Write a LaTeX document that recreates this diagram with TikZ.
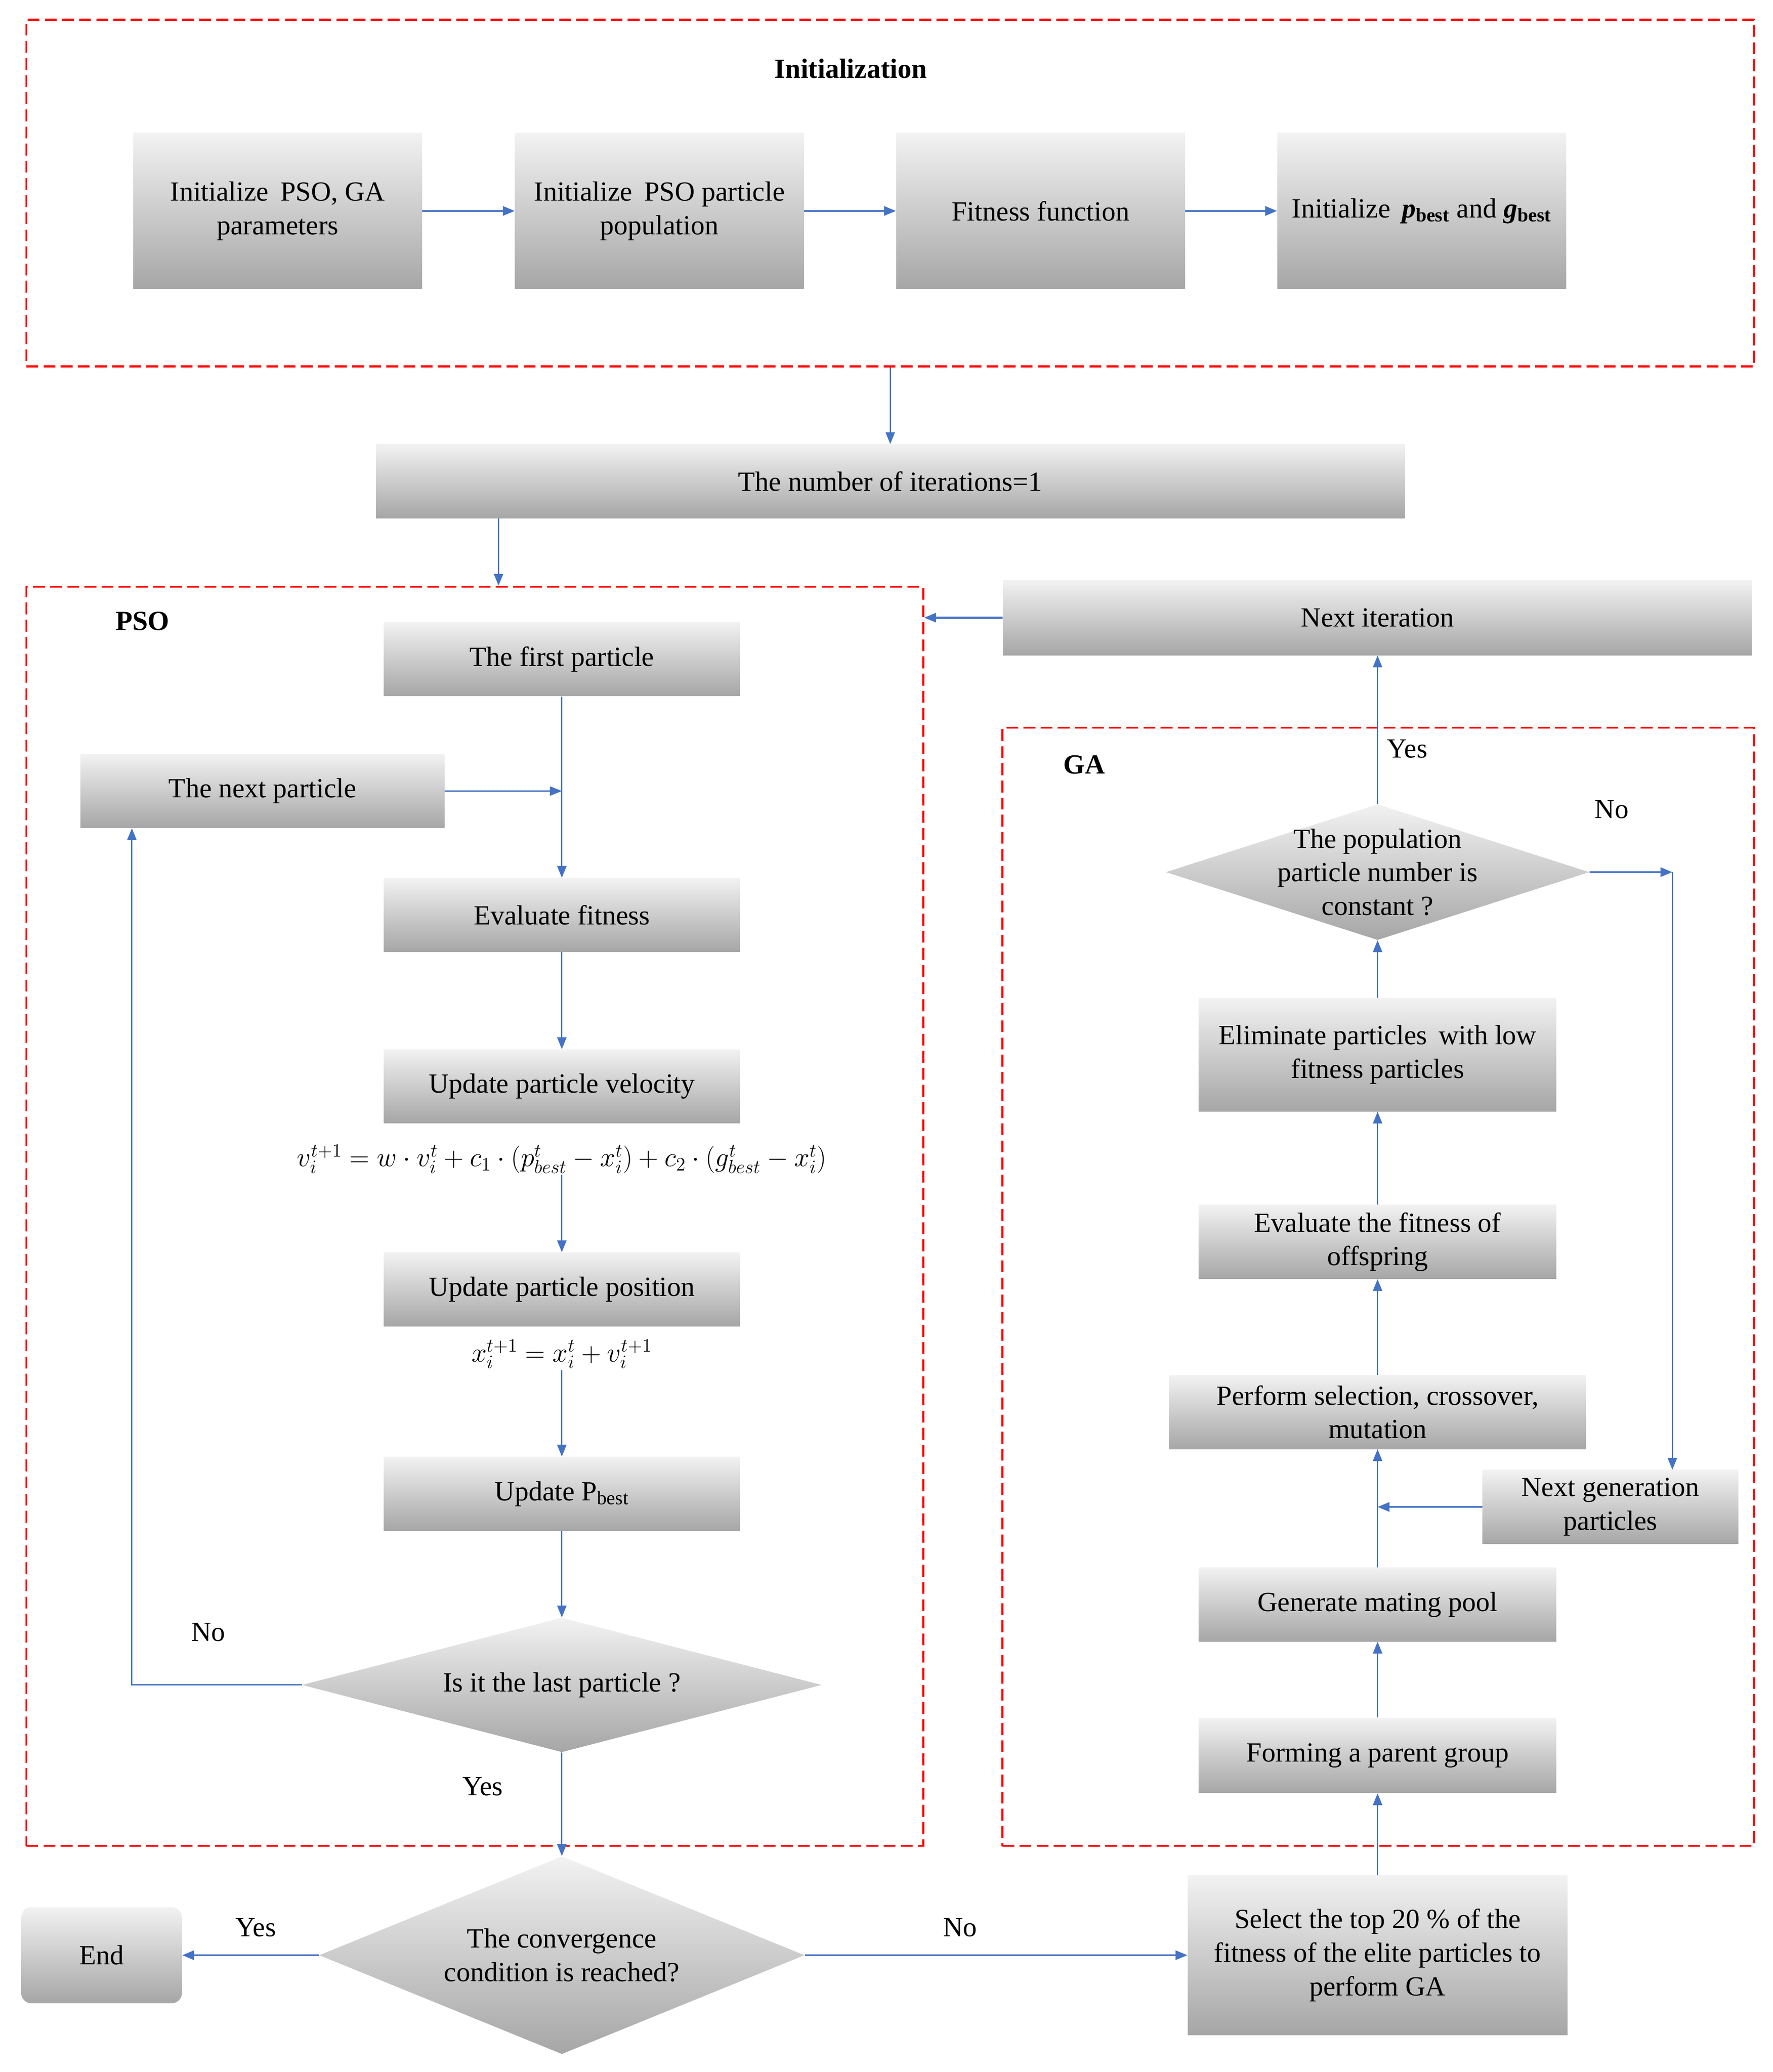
\documentclass[tikz,border=0pt]{standalone}
\usepackage{fontspec}
\setmainfont{Liberation Serif}
\usetikzlibrary{shapes.geometric,arrows.meta}
\definecolor{gtop}{HTML}{F2F2F2}
\definecolor{gbot}{HTML}{A6A6A6}
\definecolor{arrblue}{HTML}{4472C4}
\begin{document}
\begin{tikzpicture}[x=1pt,y=-1pt,
  every node/.style={font=\fontsize{21}{25.5}\selectfont},
  box/.style={top color=gtop, bottom color=gbot, draw=none, align=center, inner sep=0pt},
  dia/.style={diamond, top color=gtop, bottom color=gbot, draw=none, inner sep=0pt},
  frame/.style={draw=red, dash pattern=on 9pt off 4pt, line width=1.5pt, inner sep=0pt},
  arr/.style={draw=arrblue, line width=1pt, -{Triangle[length=9pt,width=7pt]}},
  harr/.style={arr, line width=1.5pt},
  lbl/.style={inner sep=0pt},
  ttl/.style={inner sep=0pt, font=\fontsize{21}{25.5}\selectfont\bfseries}]
\useasboundingbox (0,0) rectangle (1344,1571.6);
\fill[white] (0,0) rectangle (1344,1571.6);

% ---------- Initialization ----------
\node[frame, minimum width=1310pt, minimum height=263pt] (initf) at (675,146.5) {};
\node[ttl] (tinit) at (645,52) {Initialization};
\node[box, minimum width=219pt, minimum height=118pt] (b1) at (210.5,160) {Initialize\, PSO, GA\\parameters};
\node[box, minimum width=219pt, minimum height=118pt] (b2) at (500,160) {Initialize\, PSO particle\\population};
\node[box, minimum width=219pt, minimum height=118pt] (b3) at (789,160) {Fitness function};
\node[box, minimum width=219pt, minimum height=118pt] (b4) at (1078,160) {Initialize\, \textbf{\textit{p}}\textsubscript{\textbf{best}} and \textbf{\textit{g}}\textsubscript{\textbf{best}}};
\draw[harr] (b1.east) -- (b2.west);
\draw[harr] (b2.east) -- (b3.west);
\draw[harr] (b3.east) -- (b4.west);

\node[box, minimum width=780pt, minimum height=56pt] (iter) at (675,365) {The number of iterations=1};
\draw[arr] (initf.south) -- (iter.north);

% ---------- PSO ----------
\node[frame, minimum width=680pt, minimum height=955pt] (pso) at (360,922.5) {};
\node[ttl] (tpso) at (108,471) {PSO};
\coordinate (cx) at (378,0);
\draw[arr] (iter.south -| cx) -- (pso.north -| cx);

\node[box, minimum width=270pt, minimum height=56pt] (first) at (426,500) {The first particle};
\node[box, minimum width=276pt, minimum height=56pt] (next) at (199,600) {The next particle};
\node[box, minimum width=270pt, minimum height=56pt] (evalfit) at (426,694) {Evaluate fitness};
\node[box, minimum width=270pt, minimum height=56pt] (upvel) at (426,824) {Update particle velocity};
\node[inner sep=1pt, font=\fontsize{21}{25}\selectfont] (f1) at (426,879) {$v_i^{t+1} = w\cdot v_i^t + c_1\cdot(p_{best}^t - x_i^t) + c_2\cdot(g_{best}^t - x_i^t)$};
\node[box, minimum width=270pt, minimum height=56pt] (uppos) at (426,978) {Update particle position};
\node[inner sep=1pt, font=\fontsize{20}{24}\selectfont] (f2) at (426,1027) {$x_i^{t+1} = x_i^t + v_i^{t+1}$};
\node[box, minimum width=270pt, minimum height=56pt] (uppb) at (426,1133) {Update P\textsubscript{best}};
\node[dia, minimum width=394pt, minimum height=102pt] (d1) at (426,1278) {};
\node[lbl] (d1t) at (d1) {Is it the last particle ?};

\draw[arr] (first.south) -- (evalfit.north);
\draw[arr] (next.east) -- (next.east -| first.south);
\draw[arr] (evalfit.south) -- (upvel.north);
\draw[arr] (f1.south) -- (uppos.north);
\draw[arr] (f2.south) -- (uppb.north);
\draw[arr] (uppb.south) -- (d1.north);
\draw[arr] (d1.west) -| ([xshift=-99pt]next.south);
\node[lbl] (no1) at (158,1238) {No};

% ---------- Convergence ----------
\node[dia, minimum width=368pt, minimum height=150pt] (d2) at (426,1483) {};
\node[lbl, align=center] (d2t) at (d2) {The convergence\\condition is reached?};
\draw[arr] (d1.south) -- (d2.north);
\node[lbl] (yes1) at (366,1355) {Yes};
\node[box, rounded corners=8pt, minimum width=122pt, minimum height=73pt] (endn) at (77,1483) {End};
\draw[harr] (d2.west) -- (endn.east);
\node[lbl] (yes2) at (194,1462) {Yes};
\node[box, minimum width=288pt, minimum height=121pt] (sel) at (1044.5,1483) {Select the top 20 \% of the\\fitness of the elite particles to\\perform GA};
\draw[harr] (d2.east) -- (sel.west);
\node[lbl] (no2) at (728,1462) {No};

% ---------- GA ----------
\node[frame, minimum width=570pt, minimum height=848pt] (ga) at (1045,976) {};
\node[ttl] (tga) at (822,580) {GA};
\node[box, minimum width=271pt, minimum height=57pt] (form) at (1044.5,1331.5) {Forming a parent group};
\node[box, minimum width=271pt, minimum height=56pt] (mate) at (1044.5,1217) {Generate mating pool};
\node[box, minimum width=316pt, minimum height=56pt] (perf) at (1044.5,1071) {Perform selection, crossover,\\mutation};
\node[box, minimum width=194pt, minimum height=56pt] (ngen) at (1221,1143) {Next generation\\particles};
\node[box, minimum width=271pt, minimum height=56pt] (evoff) at (1044.5,942) {Evaluate the fitness of\\offspring};
\node[box, minimum width=271pt, minimum height=86pt] (elim) at (1044.5,800) {Eliminate particles\, with low\\fitness particles};
\node[dia, minimum width=321pt, minimum height=103pt] (d3) at (1044.5,661.5) {};
\node[lbl, align=center] (d3t) at (d3) {The population\\particle number is\\constant ?};
\node[box, minimum width=568pt, minimum height=57pt] (nit) at (1044.5,468.5) {Next iteration};

\draw[arr] (sel.north) -- (form.south);
\draw[arr] (form.north) -- (mate.south);
\draw[arr] (mate.north) -- (perf.south);
\draw[harr] (ngen.west) -- (ngen.west -| mate.north);
\draw[arr] (perf.north) -- (evoff.south);
\draw[arr] (evoff.north) -- (elim.south);
\draw[arr] (elim.north) -- (d3.south);
\coordinate (cno) at (1268,661.5);
\draw[harr] (d3.east) -- (cno);
\draw[arr] (cno) -- (cno |- ngen.north);
\node[lbl] (no3) at (1222,614) {No};
\draw[arr] (d3.north) -- (nit.south);
\node[lbl] (yes3) at (1067,568) {Yes};
\draw[harr] (nit.west) -- (nit.west -| pso.east);
\end{tikzpicture}
\end{document}
